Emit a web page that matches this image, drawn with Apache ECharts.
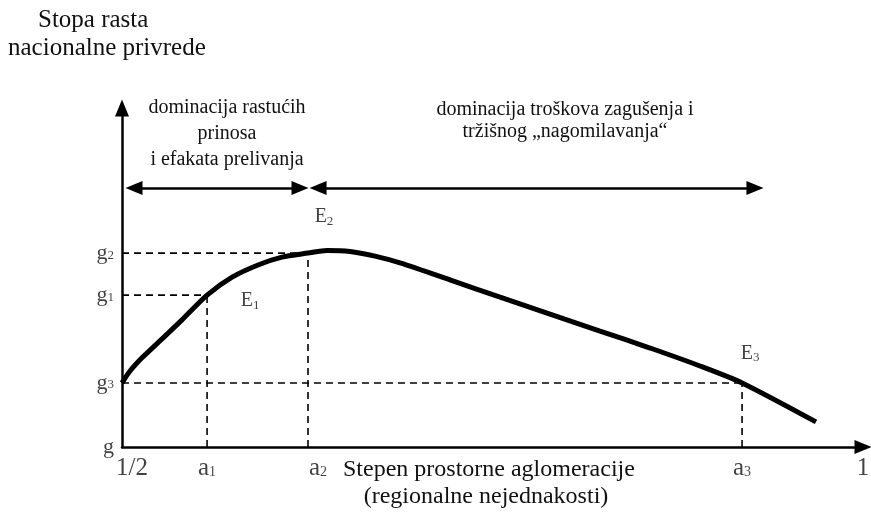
<!DOCTYPE html>
<html style="height: 100%">
  <head>
    <meta charset="utf-8" />
    <title>Stopa rasta i aglomeracija</title>
    <script src="https://cdn.jsdelivr.net/npm/echarts@6/dist/echarts.min.js"></script>
  </head>
  <body style="height: 100%; margin: 0; background: #fff">
    <div id="container" style="width: 871px; height: 519px"></div>
    <script type="text/javascript">
      // curve points (x: 1/2..1, y: growth rate, arbitrary units)
      const curveX = [0.5, 0.5054, 0.5135, 0.5256, 0.5405, 0.5574, 0.5743, 0.5918, 0.608, 0.6255, 0.6383,
                      0.6538, 0.6707, 0.6876, 0.7213, 0.7551, 0.7888, 0.8225, 0.8563, 0.89, 0.9184, 0.9683];
      const curveY = [18.9, 22.4, 26.3, 31.3, 37.5, 44.8, 50.1, 53.7, 56.0, 57.2, 58.0,
                      57.7, 56.3, 54.3, 49.3, 44.2, 39.2, 34.2, 29.2, 23.9, 18.9, 7.4];

      // x axis tick labels
      const tickNames = ["1/2", "a1", "a2", "a3", "1"];
      const tickValues = [0.5, 0.5574, 0.6255, 0.9184, 1];

      // y axis levels
      const levelNames = ["g", "g1", "g2", "g3"];
      const levelValues = [0, 44.8, 57.2, 18.9];

      // equilibrium points E1..E3
      const eqNames = ["E1", "E2", "E3"];
      const eqA = [0.5574, 0.6255, 0.9184];
      const eqG = [44.8, 57.2, 18.9];

      // double arrows on top (start, end) at height arrowLevel
      const arrowLevel = 76.4;
      const leftArrow = [0.5081, 0.6201];
      const rightArrow = [0.6323, 0.9271];

      // text blocks
      const yTitleLines = ["Stopa rasta", "nacionalne privrede"];
      const leftNoteLines = ["dominacija rastućih", "prinosa", "i efakata prelivanja"];
      const rightNoteLines = ["dominacija troškova zagušenja i", "tržišnog „nagomilavanja“"];
      const xTitleLines = ["Stepen prostorne aglomeracije", "(regionalne nejednakosti)"];

      const serif = "Liberation Serif";

      // "a1" -> "a{s|1}" so the digit becomes a subscript
      const subFmt = (name) => /^[a-zA-Z]\d$/.test(name) ? name[0] + "{s|" + name[1] + "}" : name;

      const dashed = { color: "#000", width: 1.6, type: [7, 5] };
      let dashSeries = [];
      eqNames.forEach((n, i) => {
        dashSeries.push({
          type: "line", silent: true, symbol: "none", lineStyle: dashed,
          data: [[0.5, eqG[i]], [eqA[i], eqG[i]]]
        });
        dashSeries.push({
          type: "line", silent: true, symbol: "none", lineStyle: dashed,
          data: [[eqA[i], 0], [eqA[i], eqG[i]]]
        });
      });

      const eqOffsets = { E1: [43, 6], E2: [16, -36], E3: [8, -29] };
      const tickOffsets = { "1/2": [10, 0], a2: [10, 0] };

      const ts = (size) => ({ fontFamily: serif, fontSize: size, fontWeight: "normal", color: "#111", lineHeight: size + 4 });

      // one title entry per text line
      let titles = [];
      titles.push({ text: yTitleLines[0], left: 38, top: 6, textStyle: ts(25) });
      titles.push({ text: yTitleLines[1], left: 8, top: 34, textStyle: ts(25) });
      leftNoteLines.forEach((t, i) => titles.push({
        text: t, left: 227, top: 96 + i * 26, textAlign: "center", textStyle: ts(20)
      }));
      rightNoteLines.forEach((t, i) => titles.push({
        text: t, left: 565, top: 98 + i * 22, textAlign: "center", textStyle: ts(20)
      }));
      titles.push({ text: xTitleLines[0], left: 343, top: 456, textStyle: ts(24) });
      titles.push({ text: xTitleLines[1], left: 486, top: 483, textAlign: "center", textStyle: ts(24) });
      titles.forEach((t) => { t.padding = 0; });

      let chart = echarts.init(document.getElementById("container"));
      chart.setOption({
        animation: false,
        title: titles,
        grid: { left: 122, right: 8, top: 108, bottom: 72 },
        xAxis: {
          type: "value", min: 0.5, max: 1,
          axisLine: { show: true, lineStyle: { color: "#000", width: 2.5 },
                      symbol: ["none", "triangle"], symbolSize: [14, 17] },
          axisTick: { show: false }, axisLabel: { show: false }, splitLine: { show: false }
        },
        yAxis: {
          type: "value", min: 0, max: 100,
          axisLine: { show: true, lineStyle: { color: "#000", width: 2.5 },
                      symbol: ["none", "triangle"], symbolSize: [14, 17] },
          axisTick: { show: false }, axisLabel: { show: false }, splitLine: { show: false }
        },
        series: [
          ...dashSeries,
          {
            type: "line", silent: true, symbol: "none", smooth: 0.25, z: 5,
            lineStyle: { color: "#000", width: 5 },
            data: curveX.map((x, i) => [x, curveY[i]])
          },
          {
            // double arrows above the curve
            type: "line", silent: true, symbol: "none", data: [],
            markLine: {
              silent: true, symbol: ["triangle", "triangle"], symbolSize: [14, 17],
              lineStyle: { color: "#000", width: 2.5, type: "solid" }, label: { show: false },
              data: [
                [{ coord: [leftArrow[0], arrowLevel] }, { coord: [leftArrow[1], arrowLevel] }],
                [{ coord: [rightArrow[0], arrowLevel] }, { coord: [rightArrow[1], arrowLevel] }]
              ]
            }
          },
          {
            // x tick labels
            type: "scatter", silent: true, symbolSize: 0,
            data: tickNames.map((n, i) => ({
              value: [tickValues[i], 0], name: n,
              label: { offset: tickOffsets[n] || [0, 0] }
            })),
            label: {
              show: true, position: "bottom", distance: 9,
              formatter: (p) => subFmt(p.name),
              fontFamily: serif, fontSize: 25, color: "#111",
              rich: { s: { fontFamily: serif, fontSize: 14, color: "#111", padding: [8, 0, 0, 0] } }
            }
          },
          {
            // y levels
            type: "scatter", silent: true, symbolSize: 0,
            data: levelNames.map((n, i) => ({ value: [0.5, levelValues[i]], name: n })),
            label: {
              show: true, position: "left", distance: 8,
              formatter: (p) => subFmt(p.name),
              fontFamily: serif, fontSize: 22, color: "#111",
              rich: { s: { fontFamily: serif, fontSize: 13, color: "#111", padding: [4, 0, 0, 0] } }
            }
          },
          {
            // equilibrium labels
            type: "scatter", silent: true, symbolSize: 0,
            data: eqNames.map((n, i) => ({
              value: [eqA[i], eqG[i]], name: n,
              label: { offset: eqOffsets[n] }
            })),
            label: {
              show: true, position: "inside",
              formatter: (p) => subFmt(p.name),
              fontFamily: serif, fontSize: 20, color: "#111",
              rich: { s: { fontFamily: serif, fontSize: 13, color: "#111", padding: [8, 0, 0, 0] } }
            }
          }
        ]
      });
    </script>
  </body>
</html>
